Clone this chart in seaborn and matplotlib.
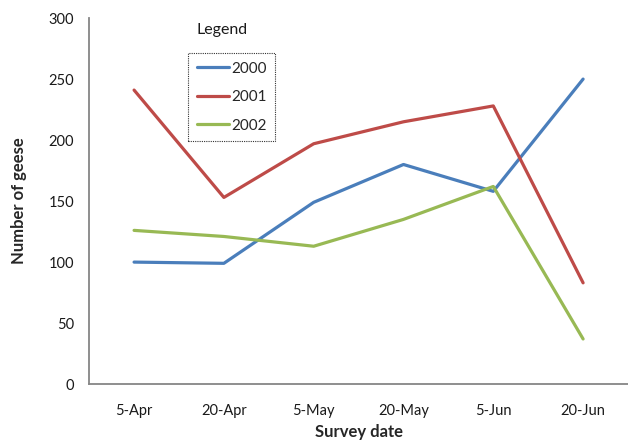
import matplotlib
matplotlib.use("Agg")
import matplotlib.pyplot as plt
import seaborn as sns
import pandas as pd
import numpy as np

dates = ["5-Apr", "20-Apr", "5-May", "20-May", "5-Jun", "20-Jun"]
geese_2000 = [100, 99, 149, 180, 158, 250]
geese_2001 = [241, 153, 197, 215, 228, 83]
geese_2002 = [126, 121, 113, 135, 162, 37]
years = ["2000", "2001", "2002"]
y_ticks = [0, 50, 100, 150, 200, 250, 300]

df = pd.DataFrame({
    "date": dates * 3,
    "pos": list(range(len(dates))) * 3,
    "count": geese_2000 + geese_2001 + geese_2002,
    "year": [y for y in years for _ in dates],
})

sns.set_style("white")
plt.rcParams["font.family"] = ["Lato", "DejaVu Sans"]

palette = {"2000": "#4A7EBB", "2001": "#BE4B48", "2002": "#98B954"}
axis_grey = "#868686"

fig = plt.figure(figsize=(6.28, 4.41), dpi=100)
ax = fig.add_axes([0.142, 0.129, 0.858, 0.830])

sns.lineplot(data=df, x="pos", y="count", hue="year", palette=palette,
             linewidth=2.3, ax=ax, legend=True)

ax.set_xlim(-0.5, len(dates) - 0.5)
ax.set_ylim(0, 300)
ax.set_yticks(y_ticks)
ax.set_xticks(range(len(dates)))
ax.set_xticklabels(dates)
ax.set_xticks(np.arange(-0.5, len(dates), 1.0), minor=True)
ax.tick_params(axis="x", which="major", length=0, pad=14, labelsize=10.5, colors="#1a1a1a")
ax.tick_params(axis="x", which="minor", length=5, width=1, color=axis_grey, direction="out")
ax.tick_params(axis="y", which="major", length=5, width=1, color=axis_grey,
               direction="out", labelsize=10.5, labelcolor="#1a1a1a", pad=6)

for side in ["top", "right"]:
    ax.spines[side].set_visible(False)
for side in ["left", "bottom"]:
    ax.spines[side].set_color(axis_grey)
    ax.spines[side].set_linewidth(1.3)

ax.set_xlabel("Survey date", fontsize=12, fontweight="bold", labelpad=5)
ax.set_ylabel("Number of geese", fontsize=12, fontweight="bold", labelpad=15)

handles, labels = ax.get_legend_handles_labels()
leg = ax.legend(handles, labels, loc="upper left", bbox_to_anchor=(0.1837, 0.904),
                frameon=True, fancybox=False, fontsize=11, handlelength=2.1,
                handletextpad=0.15, labelspacing=0.95, borderpad=0.55,
                borderaxespad=0)
frame = leg.get_frame()
frame.set_edgecolor("black")
frame.set_linewidth(0.8)
frame.set_linestyle((0, (1, 1)))
ax.text(0.246, 0.967, "Legend", transform=ax.transAxes, fontsize=11.5,
        ha="center", va="center", color="#1a1a1a")

fig.savefig("out.png", dpi=100)
